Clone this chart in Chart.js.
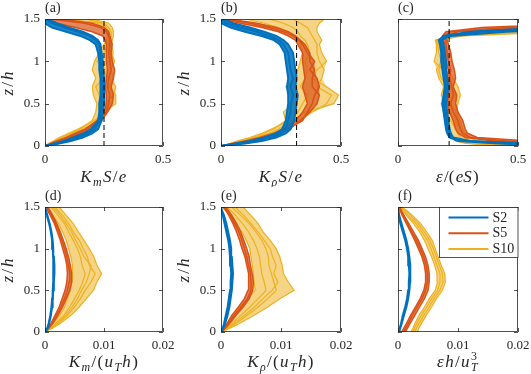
<!DOCTYPE html>
<html>
<head>
<meta charset="utf-8">
<script src="https://cdn.jsdelivr.net/npm/chart.js@4"></script>
<style>
body { margin: 0; background: #fff; width: 531px; height: 374px; position: relative; overflow: hidden; }
canvas { position: absolute; }
</style>
</head>
<body>
<canvas id="pa" width="185" height="187" style="left:0px;top:0px"></canvas>
<canvas id="pb" width="185" height="187" style="left:176px;top:0px"></canvas>
<canvas id="pc" width="185" height="187" style="left:351px;top:0px"></canvas>
<canvas id="pd" width="185" height="187" style="left:0px;top:187px"></canvas>
<canvas id="pe" width="185" height="187" style="left:176px;top:187px"></canvas>
<canvas id="pf" width="185" height="187" style="left:351px;top:187px"></canvas>
<script>
// heights z/h where the profiles are read
const zTop = [0, 0.03, 0.06, 0.1, 0.15, 0.2, 0.3, 0.4, 0.5, 0.6, 0.7, 0.8, 0.9, 1.0, 1.1, 1.2, 1.25, 1.3, 1.35, 1.4, 1.45, 1.5];
const zBot = [0, 0.05, 0.1, 0.2, 0.3, 0.4, 0.5, 0.6, 0.7, 0.8, 0.9, 1.0, 1.1, 1.2, 1.3, 1.4, 1.45, 1.5];

const seriesNames = ['S2', 'S5', 'S10'];
const yTicks = [0, 0.5, 1, 1.5];
const xTicksTop = [0, 0.5];
const xTicksBot = [0, 0.01, 0.02];

// (a) K_m S/e
const aS2 = [
    [0, .05, .09, .14, .18, .21, .23, .235, .24, .24, .245, .24, .24, .235, .235, .23, .215, .19, .14, .08, .03, 0],
    [0, .04, .08, .12, .165, .195, .225, .23, .23, .235, .235, .235, .23, .23, .225, .215, .19, .15, .09, .03, 0, 0],
    [0, .06, .11, .16, .2, .225, .24, .245, .25, .25, .25, .25, .245, .245, .24, .235, .225, .2, .16, .1, .05, .01]
];
const aS5 = [
    [0, .03, .06, .1, .14, .18, .23, .26, .27, .275, .265, .27, .28, .275, .27, .275, .275, .27, .26, .235, .17, .02],
    [0, .025, .05, .09, .13, .17, .22, .25, .26, .26, .255, .26, .265, .26, .26, .26, .255, .245, .2, .13, .05, 0],
    [0, .035, .07, .115, .155, .195, .24, .265, .285, .29, .28, .29, .295, .285, .28, .285, .28, .275, .27, .25, .2, .06]
];
const aS10 = [
    [0, .02, .04, .07, .11, .15, .2, .215, .22, .205, .2, .215, .2, .21, .23, .25, .26, .265, .26, .25, .22, .1],
    [0, .025, .05, .085, .13, .17, .22, .24, .3, .3, .27, .29, .28, .295, .28, .27, .275, .28, .28, .27, .25, .17],
    [0, .015, .035, .06, .1, .14, .21, .25, .27, .23, .215, .25, .26, .22, .25, .265, .27, .275, .27, .26, .24, .06],
    [0, .02, .045, .08, .12, .16, .23, .265, .255, .29, .3, .27, .23, .27, .29, .28, .285, .29, .29, .285, .27, .2]
];
const aRef = 0.25;

// (b) K_rho S/e
const bS2 = [
    [0, .08, .15, .21, .25, .27, .28, .29, .29, .3, .29, .3, .29, .285, .28, .26, .24, .2, .15, .08, .02, 0],
    [0, .06, .12, .18, .23, .255, .27, .275, .28, .28, .275, .28, .275, .27, .265, .245, .22, .17, .1, .04, 0, 0],
    [0, .1, .17, .23, .27, .29, .305, .31, .315, .32, .31, .315, .31, .305, .3, .28, .26, .23, .18, .12, .05, .01]
];
const bS5 = [
    [0, .05, .1, .16, .22, .26, .31, .34, .36, .35, .34, .35, .345, .34, .34, .32, .31, .28, .24, .17, .08, 0],
    [0, .06, .12, .18, .245, .285, .33, .37, .4, .41, .38, .38, .39, .37, .37, .35, .33, .31, .28, .23, .15, .03],
    [0, .055, .11, .17, .235, .275, .34, .36, .38, .39, .41, .4, .37, .39, .36, .34, .325, .3, .26, .2, .12, .02]
];
const bS10 = [
    [0, .04, .08, .13, .18, .22, .27, .26, .3, .29, .27, .31, .32, .33, .34, .33, .32, .3, .28, .24, .18, .1],
    [0, .05, .1, .15, .21, .25, .33, .38, .44, .46, .4, .42, .43, .41, .4, .4, .39, .38, .37, .36, .33, .3],
    [0, .045, .09, .14, .2, .24, .3, .35, .47, .49, .44, .38, .4, .44, .42, .41, .42, .41, .4, .4, .41, .43],
    [0, .035, .07, .12, .17, .21, .29, .32, .34, .36, .33, .35, .36, .35, .37, .36, .35, .33, .32, .3, .26, .2]
];
const bRef = 0.315;

// (c) eps/(eS)
const cS2 = [
    [.9, .55, .3, .23, .22, .215, .21, .205, .2, .205, .21, .205, .2, .2, .195, .19, .185, .2, .33, .7, .9, 1],
    [.8, .48, .28, .22, .21, .205, .2, .195, .19, .195, .2, .195, .19, .19, .185, .18, .175, .22, .45, .9, 1, 1],
    [.7, .42, .25, .215, .205, .2, .195, .19, .185, .19, .195, .19, .185, .18, .18, .175, .17, .19, .3, .6, .9, 1]
];
const cS5 = [
    [1, .8, .45, .3, .27, .26, .25, .23, .22, .23, .225, .215, .22, .21, .205, .2, .2, .19, .22, .45, .9, 1],
    [1, .9, .55, .33, .29, .28, .27, .25, .24, .245, .23, .24, .235, .225, .22, .21, .205, .2, .25, .55, 1, 1],
    [1, .7, .4, .28, .25, .24, .23, .215, .205, .21, .215, .205, .21, .2, .2, .195, .19, .185, .2, .35, .8, 1]
];
const cS10 = [
    [.6, .35, .3, .28, .27, .26, .24, .25, .2, .18, .19, .17, .16, .18, .17, .165, .16, .25, .6, 1, 1, 1],
    [.4, .3, .27, .26, .25, .24, .22, .2, .21, .24, .22, .2, .19, .15, .16, .16, .155, .22, .5, .9, 1, 1],
    [.8, .45, .33, .3, .28, .27, .26, .24, .25, .26, .25, .23, .21, .2, .19, .18, .17, .27, .7, 1, 1, 1],
    [.5, .28, .24, .23, .22, .21, .2, .19, .18, .2, .21, .18, .17, .19, .18, .17, .165, .2, .45, .85, 1, 1]
];
const cRef = 0.213;

// (d) K_m/(u_T h)
const dS2 = [
    [0, .0004, .0006, .0009, .0011, .0012, .0013, .0014, .0014, .0014, .0014, .0013, .0012, .001, .0007, .0003, .0001, 0],
    [0, .0005, .0007, .001, .0012, .0013, .0014, .0015, .0016, .0016, .0015, .0014, .0013, .0011, .0008, .0004, .0002, 0]
];
const dS5 = [
    [0, .0005, .001, .0017, .0024, .0029, .0034, .0037, .0038, .0037, .0034, .003, .0026, .0021, .0016, .0009, .0005, .0002],
    [0, .0006, .0012, .002, .0027, .0033, .0038, .0041, .0042, .004, .0037, .0033, .0029, .0024, .0018, .0011, .0007, .0003],
    [0, .0007, .0013, .0022, .003, .0036, .0042, .0045, .0045, .0043, .004, .0036, .0031, .0026, .002, .0013, .0009, .0005]
];
const dS10 = [
    [0, .0008, .0014, .0025, .0033, .0038, .0043, .0046, .0047, .0046, .0044, .004, .0036, .003, .0023, .0013, .0008, .0004],
    [0, .001, .0018, .0032, .0042, .005, .0058, .0064, .0068, .0063, .006, .0055, .0048, .004, .0033, .0022, .0016, .001],
    [0, .0012, .0022, .0038, .005, .006, .0068, .0078, .0085, .0075, .0072, .0065, .0058, .0048, .004, .003, .0023, .0017],
    [0, .0014, .0025, .0044, .0058, .007, .0082, .0088, .0096, .0088, .0083, .0075, .0066, .0057, .0048, .0036, .003, .0024],
    [0, .0011, .002, .0035, .0046, .0055, .0062, .007, .0075, .0078, .0066, .006, .0052, .0045, .0036, .0026, .002, .0013]
];

// (e) K_rho/(u_T h)
const eS2 = [
    [0, .0003, .0005, .0008, .0011, .0013, .0015, .0016, .0017, .0016, .0015, .0014, .0012, .0009, .0006, .0003, .0001, 0],
    [0, .0004, .0007, .0011, .0014, .0016, .0018, .0019, .002, .0019, .0018, .0017, .0015, .0012, .0009, .0005, .0002, 0]
];
const eS5 = [
    [0, .0006, .001, .0018, .0029, .0039, .0045, .0046, .0046, .0043, .004, .0035, .0031, .0026, .002, .0013, .0009, .0004],
    [0, .0007, .0012, .0022, .0034, .0044, .005, .005, .0049, .0046, .0043, .0039, .0035, .003, .0023, .0016, .0011, .0006],
    [0, .0008, .0014, .0025, .0037, .0047, .0053, .0054, .0052, .0049, .0047, .0043, .0038, .0033, .0026, .0018, .0013, .0008]
];
const eS10 = [
    [0, .0007, .0012, .0022, .0032, .0045, .0057, .0055, .0054, .0052, .005, .0048, .0042, .0035, .0025, .0014, .0008, .0002],
    [0, .001, .0018, .0033, .0048, .0062, .0075, .0072, .0068, .0066, .0064, .006, .0054, .0046, .0036, .0024, .0017, .001],
    [0, .0013, .0024, .0044, .0062, .0078, .0092, .0088, .0084, .008, .0079, .0075, .0068, .0058, .0047, .0033, .0025, .0018],
    [0, .0016, .003, .0055, .0078, .0098, .0122, .0112, .0104, .0102, .0098, .0092, .0082, .007, .0062, .005, .0043, .0037],
    [0, .0012, .0021, .0039, .0056, .007, .0085, .0095, .0088, .0092, .0086, .0082, .0072, .0062, .005, .0038, .003, .0024]
];

// (f) eps h/u_T^3
const fS2 = [
    [.0001, .0003, .0005, .0008, .0012, .0015, .0017, .0018, .0019, .0018, .0017, .0015, .0012, .0008, .0004, .0001, 0, 0],
    [.0002, .0004, .0006, .001, .0014, .0017, .0019, .002, .0021, .002, .0019, .0017, .0014, .001, .0006, .0002, .0001, 0]
];
const fS5 = [
    [.0006, .001, .0014, .0021, .0029, .0037, .0043, .0046, .0046, .0044, .004, .0034, .0028, .0021, .0014, .0007, .0004, .0001],
    [.0009, .0013, .0017, .0024, .0032, .004, .0046, .0049, .0049, .0047, .0043, .0037, .0031, .0023, .0016, .0009, .0005, .0002],
    [.0012, .0016, .002, .0028, .0036, .0044, .005, .0052, .0052, .005, .0046, .004, .0034, .0026, .0018, .001, .0006, .0003]
];
const fS10 = [
    [.0022, .0025, .0028, .0035, .0044, .0052, .0062, .0066, .0065, .0061, .0056, .005, .0044, .0036, .0026, .0014, .0008, .0001],
    [.0025, .0028, .0031, .0039, .0048, .0056, .0066, .007, .007, .0065, .006, .0055, .0049, .004, .003, .0017, .0011, .0003],
    [.0028, .0031, .0035, .0043, .0052, .006, .007, .0075, .0074, .0069, .0064, .0059, .0053, .0044, .0034, .0021, .0014, .0005],
    [.0032, .0035, .0039, .0047, .0056, .0064, .0074, .0079, .0078, .0072, .0067, .0062, .0057, .0048, .0038, .0024, .0016, .0007]
];

const colors = ['rgb(0, 114, 189)', 'rgb(217, 83, 25)', 'rgb(237, 177, 32)'];
const bandColors = ['rgba(0, 114, 189, 0.85)', 'rgba(217, 83, 25, 0.7)', 'rgba(237, 177, 32, 0.55)'];
const widths = [2, 1.5, 1.2];
const serif = '"Liberation Serif", "DejaVu Serif", serif';
const axisColor = '#262626';

// label pieces: [text, style]  i = italic, r = roman, sub / sup = small
const yTitle = [['z', 'i'], ['/', 'r'], ['h', 'i']];

const panels = [
    { id: 'pa', left: 0, top: 0, area: [45, 19, 163, 146], xMax: 0.5, xTicks: xTicksTop, yLabels: true,
      z: zTop, groups: [aS2, aS5, aS10], ref: aRef, tag: '(a)', titleDrop: 36,
      xTitle: [['K', 'i'], ['m', 'sub'], ['S', 'i'], ['/', 'r'], ['e', 'i']] },
    { id: 'pb', left: 176, top: 0, area: [221, 19, 341, 146], xMax: 0.5, xTicks: xTicksTop, yLabels: true,
      z: zTop, groups: [bS2, bS5, bS10], ref: bRef, tag: '(b)', titleDrop: 36,
      xTitle: [['K', 'i'], ['ρ', 'sub'], ['S', 'i'], ['/', 'r'], ['e', 'i']] },
    { id: 'pc', left: 351, top: 0, area: [398, 19, 518, 146], xMax: 0.5, xTicks: xTicksTop, yLabels: false,
      z: zTop, groups: [cS2, cS5, cS10], ref: cRef, tag: '(c)', titleDrop: 36,
      xTitle: [['ε', 'i'], ['/(', 'r'], ['eS', 'i'], [')', 'r']] },
    { id: 'pd', left: 0, top: 187, area: [45, 207, 163, 332], xMax: 0.02, xTicks: xTicksBot, yLabels: true,
      z: zBot, groups: [dS2, dS5, dS10], ref: null, tag: '(d)', titleDrop: 35,
      xTitle: [['K', 'i'], ['m', 'sub'], ['/', 'r'], ['(', 'r'], ['u', 'i'], ['T', 'sub'], ['h', 'i'], [')', 'r']] },
    { id: 'pe', left: 176, top: 187, area: [221, 207, 341, 332], xMax: 0.02, xTicks: xTicksBot, yLabels: true,
      z: zBot, groups: [eS2, eS5, eS10], ref: null, tag: '(e)', titleDrop: 35,
      xTitle: [['K', 'i'], ['ρ', 'sub'], ['/', 'r'], ['(', 'r'], ['u', 'i'], ['T', 'sub'], ['h', 'i'], [')', 'r']] },
    { id: 'pf', left: 351, top: 187, area: [398, 207, 518, 332], xMax: 0.02, xTicks: xTicksBot, yLabels: false,
      z: zBot, groups: [fS2, fS5, fS10], ref: null, tag: '(f)', titleDrop: 35, legend: true,
      xTitle: [['ε', 'i'], ['h', 'i'], ['/', 'r'], ['u', 'i'], ['T', 'sub'], ['3', 'sup']] }
];

function profile(xs, zs) {
    return xs.map((x, i) => ({ x: x, y: zs[i] }));
}

// closed outline round all profiles of one case: left edge upwards, right edge back down
function band(lines, zs) {
    const lo = zs.map((z, i) => ({ x: Math.min(...lines.map(l => l[i])), y: z }));
    const hi = zs.map((z, i) => ({ x: Math.max(...lines.map(l => l[i])), y: z }));
    return lo.concat(hi.reverse());
}

function makeDatasets(p) {
    let out = [];
    if (p.ref !== null) {
        out.push({
            data: [{ x: p.ref, y: yTicks[0] }, { x: p.ref, y: yTicks[yTicks.length - 1] }],
            borderColor: '#000', borderWidth: 1, borderDash: [5, 3], showLine: true, order: 0
        });
    }
    p.groups.forEach((lines, k) => {
        out.push({
            data: band(lines, p.z),
            borderColor: 'transparent', borderWidth: 0, backgroundColor: bandColors[k],
            fill: 'shape', showLine: true, order: k + 1.5
        });
        lines.forEach(xs => {
            out.push({
                data: profile(xs, p.z),
                borderColor: colors[k], borderWidth: widths[k], showLine: true, order: k + 1
            });
        });
    });
    return out;
}

function drawTex(ctx, parts, x, y, size, align, gap) {
    let w = 0, subX = 0;
    const items = parts.map(([t, k]) => {
        const small = k === 'sub' || k === 'sup';
        const s = small ? size * 0.7 : size;
        const font = (k === 'r' || k === 'sup' ? '' : 'italic ') + s + 'px ' + serif;
        ctx.font = font;
        const tw = ctx.measureText(t).width;
        let ix;
        if (k === 'sup') {
            ix = subX;
            w = Math.max(w, ix + tw);
        } else {
            ix = w;
            if (k === 'sub') subX = ix;
            w = ix + tw + size * gap;
        }
        const dy = k === 'sub' ? size * 0.25 : (k === 'sup' ? -size * 0.42 : 0);
        return { t, font, ix, dy };
    });
    const x0 = align === 'center' ? x - w / 2 : x;
    ctx.fillStyle = axisColor;
    ctx.textBaseline = 'alphabetic';
    ctx.textAlign = 'left';
    items.forEach(it => {
        ctx.font = it.font;
        ctx.fillText(it.t, x0 + it.ix, y + it.dy);
    });
}

function decoPlugin(p) {
    return {
        id: 'deco',
        afterDatasetsDraw(chart) {
            const { ctx, chartArea: ca, scales } = chart;
            ctx.save();
            ctx.strokeStyle = axisColor;
            ctx.lineWidth = 0.8;
            ctx.beginPath();
            scales.y.ticks.forEach(t => {
                const py = Math.round(scales.y.getPixelForValue(t.value)) + 0.5;
                ctx.moveTo(ca.left, py); ctx.lineTo(ca.left + 4, py);
                ctx.moveTo(ca.right, py); ctx.lineTo(ca.right - 4, py);
            });
            scales.x.ticks.forEach(t => {
                const px = Math.round(scales.x.getPixelForValue(t.value)) + 0.5;
                ctx.moveTo(px, ca.bottom); ctx.lineTo(px, ca.bottom - 4);
                ctx.moveTo(px, ca.top); ctx.lineTo(px, ca.top + 4);
            });
            ctx.stroke();
            ctx.strokeRect(Math.round(ca.left) + 0.5, Math.round(ca.top) + 0.5,
                Math.round(ca.width) - 1, Math.round(ca.height) - 1);

            if (p.legend) {
                const bx = Math.round(ca.right - 79) + 0.5, by = Math.round(ca.top) + 0.5;
                ctx.fillStyle = '#fff';
                ctx.fillRect(bx, by, 79, 50);
                ctx.strokeRect(bx, by, 78.5, 50);
                seriesNames.forEach((name, k) => {
                    const ly = by + 10 + k * 15.8;
                    ctx.strokeStyle = colors[k];
                    ctx.lineWidth = 2;
                    ctx.beginPath();
                    ctx.moveTo(bx + 9, ly); ctx.lineTo(bx + 49, ly);
                    ctx.stroke();
                    ctx.fillStyle = axisColor;
                    ctx.font = '14px ' + serif;
                    ctx.textBaseline = 'middle';
                    ctx.textAlign = 'left';
                    ctx.fillText(name, bx + 53, ly + 0.5);
                });
            }
            ctx.restore();
        },
        afterDraw(chart) {
            const { ctx, chartArea: ca } = chart;
            ctx.save();
            drawTex(ctx, [[p.tag, 'r']], ca.left, ca.top - 7, 14, 'left', 0);
            drawTex(ctx, p.xTitle, (ca.left + ca.right) / 2, ca.bottom + p.titleDrop, 17, 'center', 0.08);
            if (p.yLabels) {
                ctx.translate(ca.left - 32, (ca.top + ca.bottom) / 2);
                ctx.rotate(-Math.PI / 2);
                drawTex(ctx, yTitle, 0, 0, 17, 'center', 0.12);
            }
            ctx.restore();
        }
    };
}

function makeChart(p) {
    const canvas = document.getElementById(p.id);
    const W = canvas.width, H = canvas.height;
    const [l, t, r, b] = p.area;
    const tickFont = { family: serif, size: 13 };

    return new Chart(canvas, {
        type: 'scatter',
        data: { datasets: makeDatasets(p) },
        options: {
            responsive: false,
            animation: false,
            events: [],
            layout: { padding: { left: 0, top: t - p.top, right: W - (r - p.left), bottom: 0 } },
            elements: { point: { radius: 0 }, line: { tension: 0 } },
            plugins: { legend: { display: false }, tooltip: { enabled: false } },
            scales: {
                x: {
                    type: 'linear', min: 0, max: p.xMax,
                    afterBuildTicks: s => { s.ticks = p.xTicks.map(v => ({ value: v })); },
                    afterFit: s => { s.height = H - (b - p.top); },
                    grid: { display: false, drawTicks: false },
                    border: { display: false },
                    ticks: { padding: 6, maxRotation: 0, autoSkip: false, color: axisColor, font: tickFont,
                        callback: v => String(+v.toFixed(4)) }
                },
                y: {
                    type: 'linear', min: 0, max: 1.5,
                    afterBuildTicks: s => { s.ticks = yTicks.map(v => ({ value: v })); },
                    afterFit: s => { s.width = l - p.left; },
                    grid: { display: false, drawTicks: false },
                    border: { display: false },
                    ticks: { display: p.yLabels, padding: 5, color: axisColor, font: tickFont,
                        callback: v => String(+v.toFixed(4)) }
                }
            }
        },
        plugins: [decoPlugin(p)]
    });
}

panels.forEach(makeChart);
</script>
</body>
</html>
